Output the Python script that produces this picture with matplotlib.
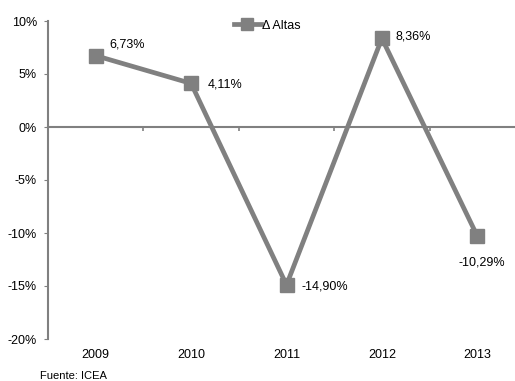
import numpy as np
import matplotlib
matplotlib.use("Agg")
import matplotlib.pyplot as plt
from matplotlib.ticker import FuncFormatter

plt.rcParams['font.family'] = ['Liberation Sans', 'DejaVu Sans']

years = ["2009", "2010", "2011", "2012", "2013"]
altas = [6.73, 4.11, -14.90, 8.36, -10.29]
label_offsets = [(10, 8), (12, -1), (11, -1), (10, 1), (3, -19)]
label_align = ["left", "left", "left", "left", "center"]

gray = "#808080"
x = np.arange(len(years))

fig = plt.figure(figsize=(5.15, 3.81), dpi=100)
ax = fig.add_axes([48 / 515, 42 / 381, 477 / 515, 318 / 381])

ax.plot(x, altas, color=gray, lw=3.4, marker="s", ms=10,
        label="Δ Altas", solid_joinstyle="miter")

for xi, v, off, ha in zip(x, altas, label_offsets, label_align):
    ax.annotate(f"{v:.2f}%".replace(".", ","), (xi, v), xytext=off,
                textcoords="offset points", fontsize=9, ha=ha, va="center")

ax.set_xlim(-0.5, len(years) - 0.5)
ax.set_ylim(-20, 10)
ax.set_yticks(np.arange(-20, 11, 5))
ax.yaxis.set_major_formatter(FuncFormatter(lambda v, p: f"{v:.0f}%"))
ax.tick_params(axis="y", length=3, color=gray, labelsize=9, pad=5)

for s in ["top", "right"]:
    ax.spines[s].set_visible(False)
ax.spines["left"].set_color(gray)
ax.spines["left"].set_linewidth(1.5)
ax.spines["bottom"].set_position(("data", 0))
ax.spines["bottom"].set_color(gray)
ax.spines["bottom"].set_linewidth(1.5)

# category boundary ticks on the zero line
ax.set_xticks(x[:-1] + 0.5)
ax.set_xticklabels([])
ax.tick_params(axis="x", length=3, color=gray, width=1.2)

sec = ax.secondary_xaxis("bottom")
sec.set_xticks(x)
sec.set_xticklabels(years)
sec.tick_params(length=0, labelsize=9, pad=7)
sec.spines["bottom"].set_visible(False)

leg = ax.legend(loc="upper center", bbox_to_anchor=(0.46, 1.04), frameon=False,
                fontsize=9, handlelength=2.2, handletextpad=0.1, markerscale=0.8)

fig.text(40 / 515, 2 / 381, "Fuente: ICEA", fontsize=8)

fig.savefig("out.png", dpi=100)
